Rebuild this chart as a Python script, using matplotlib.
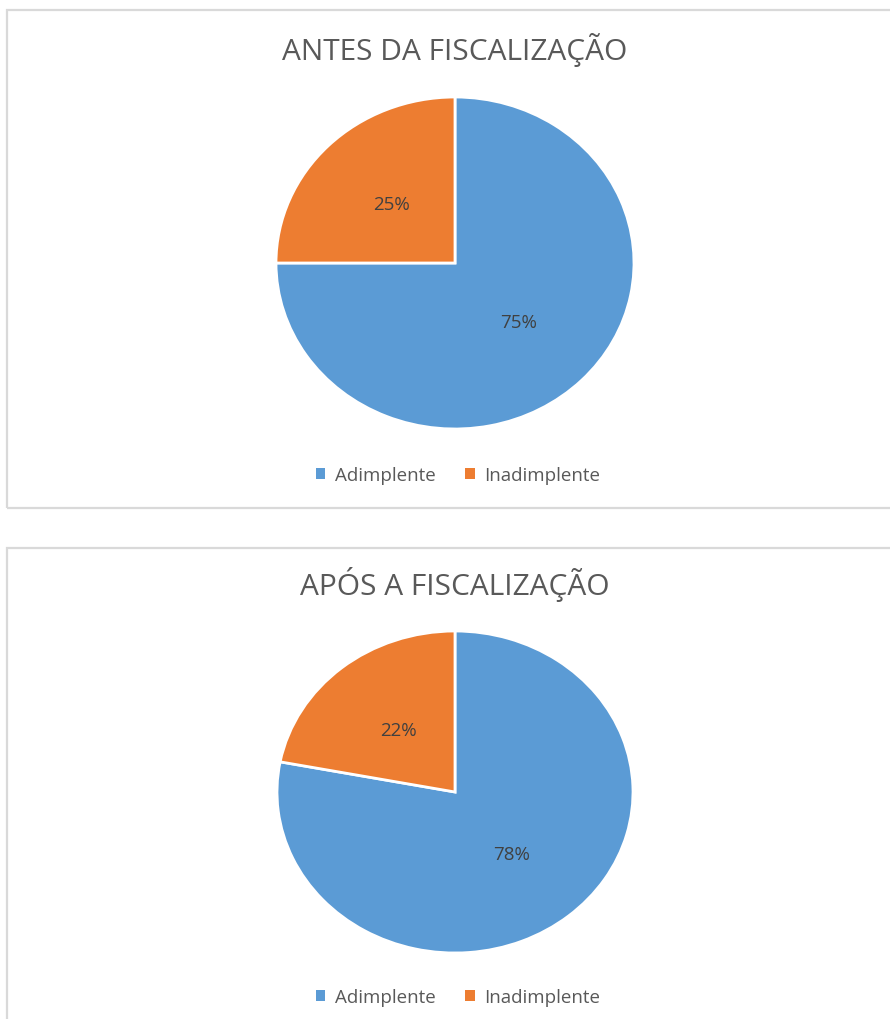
import matplotlib.pyplot as plt
from matplotlib.patches import Rectangle, Patch

# dados
categorias = ['Adimplente', 'Inadimplente']
antes = [75, 25]
apos = [78, 22]
titulos = ['ANTES DA FISCALIZAÇÃO', 'APÓS A FISCALIZAÇÃO']
cores = ['#5B9BD5', '#ED7D31']

W, H = 890, 1020
plt.rcParams['font.family'] = ['Open Sans', 'DejaVu Sans']
fig = plt.figure(figsize=(W / 100, H / 100), dpi=100)


def fx(px):
    return px / W


def fy(py):
    return 1 - py / H


# molduras dos dois graficos
for top, bottom in [(11, 509), (549, 1040)]:
    fig.add_artist(Rectangle((fx(7), fy(bottom)), fx(900), fy(top) - fy(bottom),
                             transform=fig.transFigure, fill=False,
                             edgecolor='#D9D9D9', linewidth=1.6, clip_on=False))

# posicoes (centro x, centro y, raio x, raio y, titulo y, legenda y)
layout = [(455, 264, 179, 166, 50, 476), (455, 793, 178, 161, 585, 998)]

for valores, titulo, (cx, cy, rx, ry, ty, ly) in zip([antes, apos], titulos, layout):
    ax = fig.add_axes([fx(cx - rx), fy(cy + ry), fx(2 * rx), (2 * ry) / H])
    ax.pie(valores, colors=cores, startangle=90, counterclock=False,
           autopct='%1.0f%%', pctdistance=0.5,
           wedgeprops={'edgecolor': 'white', 'linewidth': 2},
           textprops={'color': '#404040', 'fontsize': 13.5})
    ax.set_aspect('auto')
    ax.set_xlim(-1.0, 1.0)
    ax.set_ylim(-1.0, 1.0)
    ax.axis('off')

    fig.text(fx(cx), fy(ty), titulo, ha='center', va='center',
             fontsize=21.5, color='#595959')

    handles = [Patch(facecolor=c, edgecolor='none') for c in cores]
    fig.legend(handles, categorias, loc='center', bbox_to_anchor=(fx(458), fy(ly)),
               ncol=2, frameon=False, fontsize=13.5, labelcolor='#595959',
               handlelength=0.5, handleheight=0.5, handletextpad=0.5,
               columnspacing=1.6)

plt.savefig('out.png', dpi=100, facecolor='white')
